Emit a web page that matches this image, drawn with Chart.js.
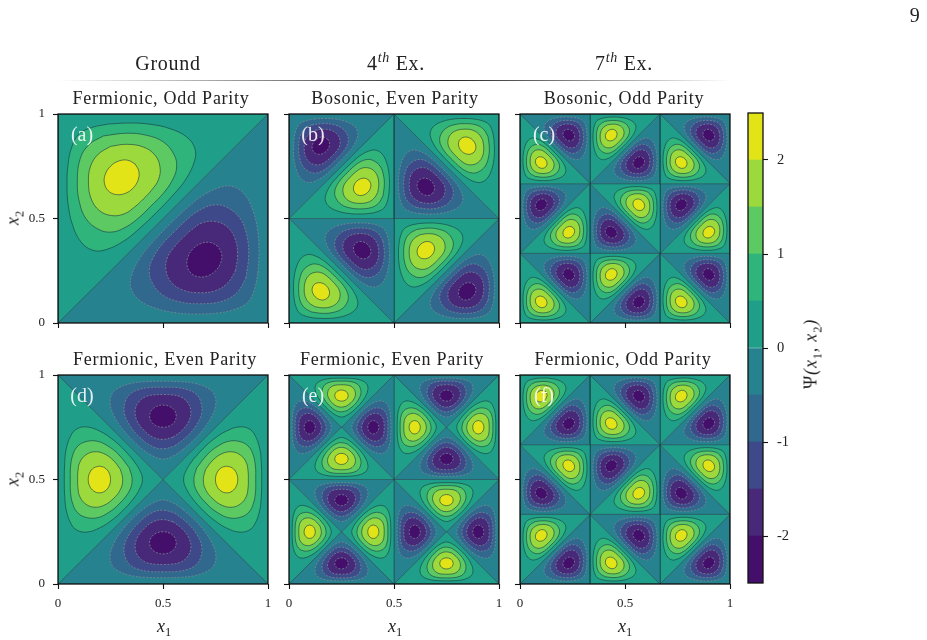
<!DOCTYPE html>
<html>
<head>
<meta charset="utf-8">
<script src="https://cdn.jsdelivr.net/npm/chart.js@4"></script>
<style>
  html, body { margin: 0; padding: 0; background: #fff; }
  body { position: relative; width: 927px; height: 640px; overflow: hidden;
         font-family: "Liberation Serif", serif; color: #222; }
  canvas { position: absolute; }
  .lab { position: absolute; white-space: nowrap; transform: translate(-50%, -50%); will-change: transform; }
  .head { font-size: 20px; letter-spacing: 0.7px; }
  .head sup { font-size: 14px; font-style: italic; line-height: 0; }
  .title { font-size: 18px; letter-spacing: 0.75px; }
  .tag { font-size: 20px; color: rgba(255, 255, 255, 0.88); z-index: 5; }
  .axis { font-size: 18px; font-style: italic; }
  .axis sub { font-size: 12.5px; font-style: normal; line-height: 0; }
  .axis span { font-style: normal; }
  .wide { letter-spacing: 0.8px; }
  .turn { transform: translate(-50%, -50%) rotate(-90deg); }
  #rule { position: absolute; left: 57px; top: 80px; width: 673px; height: 1px;
          background: linear-gradient(90deg, rgba(0,0,0,0), #222 58%, rgba(0,0,0,0)); }
</style>
</head>
<body>
<div id="rule"></div>
<script>
// contour bands, lowest to highest
const levels = [-2.5, -2, -1.5, -1, -0.5, 0, 0.5, 1, 1.5, 2, 2.5];
const bandColors = ["#440f6a", "#482878", "#3e4989", "#31688e", "#26828e",
                    "#1f9e89", "#2fb47c", "#5dc963", "#9bd93c", "#e3e418"];
const axisTicks = [0, 0.5, 1];
const barTicks = [-2, -1, 0, 1, 2];

// one lobe's contours on the triangle with its right angle at (0, 1)
const contourHalf = [[.24,.952],[.343,.957],[.438,.951],[.533,.930],[.613,.890],[.652,.834],[.650,.775],
  [.61,.69],[.555,.62],[.47,.53],[.38,.445],[.31,.39],[.225,.35],[.166,.348],[.11,.387],[.07,.467],
  [.049,.562],[.043,.657],[.048,.76],[.065,.84],[.098,.902],[.16,.935],[.24,.952]];
const contourOne = [[.216,.895],[.327,.908],[.422,.898],[.502,.866],[.553,.805],[.565,.747],[.548,.69],
  [.505,.625],[.4415,.5585],[.375,.495],[.31,.452],[.253,.435],[.195,.447],[.134,.498],[.102,.578],
  [.092,.673],[.105,.784],[.147,.853],[.216,.895]];
const contourOneHalf = [[.25,.845],[.327,.855],[.406,.842],[.462,.803],[.486,.745],[.478,.685],[.445,.635],
  [.4065,.5935],[.365,.555],[.315,.522],[.255,.514],[.197,.538],[.158,.594],[.145,.673],[.155,.75],
  [.192,.808],[.25,.845]];
const contourTwo = [[.367,.761],[.385,.726],[.381,.683],[.356,.644],[.317,.619],[.274,.615],[.239,.633],
  [.221,.669],[.225,.711],[.25,.75],[.289,.775],[.332,.779],[.367,.761]];

// lobes per panel: sign, right-angle corner, then the two far corners
const t = 1 / 3, s = 2 / 3;
const lobesA = [[1, 0,1, 0,0, 1,1], [-1, 1,0, 0,0, 1,1]];
const lobesB = [[-1, 0,1, 0,.5, .5,1], [1, .5,.5, 0,.5, .5,1], [1, 1,1, .5,1, 1,.5], [-1, .5,.5, .5,1, 1,.5],
  [1, 0,0, 0,.5, .5,0], [-1, .5,.5, 0,.5, .5,0], [1, .5,.5, .5,0, 1,.5], [-1, 1,0, .5,0, 1,.5]];
const lobesC = [[1, 0,s, 0,1, t,s], [-1, t,1, 0,1, t,s], [1, t,1, t,s, s,1], [-1, s,s, t,s, s,1],
  [1, s,s, s,1, 1,s], [-1, 1,1, s,1, 1,s], [-1, 0,s, 0,t, t,s], [1, t,t, 0,t, t,s],
  [1, s,s, t,s, s,t], [-1, t,t, t,s, s,t], [-1, s,s, s,t, 1,s], [1, 1,t, s,t, 1,s],
  [1, 0,0, 0,t, t,0], [-1, t,t, 0,t, t,0], [1, t,t, t,0, s,t], [-1, s,0, t,0, s,t],
  [1, s,0, s,t, 1,0], [-1, 1,t, s,t, 1,0]];
const lobesD = [[-1, .5,.5, 0,1, 1,1], [1, .5,.5, 0,0, 0,1], [1, .5,.5, 1,0, 1,1], [-1, .5,.5, 0,0, 1,0]];
const lobesE = [[1, .25,.75, 0,1, .5,1], [1, .25,.75, 0,.5, .5,.5], [-1, .25,.75, 0,.5, 0,1], [-1, .25,.75, .5,.5, .5,1],
  [-1, .75,.75, .5,1, 1,1], [-1, .75,.75, .5,.5, 1,.5], [1, .75,.75, .5,.5, .5,1], [1, .75,.75, 1,.5, 1,1],
  [-1, .25,.25, 0,.5, .5,.5], [-1, .25,.25, 0,0, .5,0], [1, .25,.25, 0,0, 0,.5], [1, .25,.25, .5,0, .5,.5],
  [1, .75,.25, .5,.5, 1,.5], [1, .75,.25, .5,0, 1,0], [-1, .75,.25, .5,0, .5,.5], [-1, .75,.25, 1,0, 1,.5]];
const lobesF = [[1, 0,1, 0,s, t,1], [-1, t,s, 0,s, t,1], [-1, s,1, t,1, s,s], [1, t,s, t,1, s,s],
  [1, s,1, s,s, 1,1], [-1, 1,s, s,s, 1,1], [1, t,s, 0,s, t,t], [-1, 0,t, 0,s, t,t],
  [-1, t,s, t,t, s,s], [1, s,t, t,t, s,s], [1, 1,s, s,s, 1,t], [-1, s,t, s,s, 1,t],
  [1, 0,t, 0,0, t,t], [-1, t,0, 0,0, t,t], [-1, s,t, t,t, s,0], [1, t,0, t,t, s,0],
  [1, s,t, s,0, 1,t], [-1, 1,0, s,0, 1,t]];

const panels = [
  { lobes: lobesA, left: 58, top: 114, title: "Fermionic, Odd Parity", titleX: 161, tag: "(a)", xLabels: false, yLabels: true },
  { lobes: lobesB, left: 289, top: 114, title: "Bosonic, Even Parity", titleX: 395, tag: "(b)", xLabels: false, yLabels: false },
  { lobes: lobesC, left: 520, top: 114, title: "Bosonic, Odd Parity", titleX: 624, tag: "(c)", xLabels: false, yLabels: false },
  { lobes: lobesD, left: 58, top: 375, title: "Fermionic, Even Parity", titleX: 165, tag: "(d)", xLabels: true, yLabels: true },
  { lobes: lobesE, left: 289, top: 375, title: "Fermionic, Even Parity", titleX: 392, tag: "(e)", xLabels: true, yLabels: false },
  { lobes: lobesF, left: 520, top: 375, title: "Fermionic, Odd Parity", titleX: 623, tag: "(f)", xLabels: true, yLabels: false },
];

const PLOT_W = 210, PLOT_H = 209;
const LINE_NODE = "rgba(22, 60, 68, 0.55)";
const LINE_SOLID = "rgba(22, 60, 68, 0.72)";
const LINE_DASHED = "rgba(125, 138, 150, 0.9)";

const framePlugin = {
  id: "frame",
  afterDraw(chart) {
    const { ctx, chartArea: a } = chart;
    ctx.save();
    ctx.strokeStyle = "#111";
    ctx.lineWidth = 1.3;
    ctx.strokeRect(a.left, a.top, a.right - a.left, a.bottom - a.top);
    ctx.restore();
  },
};

function addLabel(html, x, y, cls) {
  const el = document.createElement("div");
  el.className = "lab " + cls;
  el.innerHTML = html;
  el.style.left = x + "px";
  el.style.top = y + "px";
  document.body.appendChild(el);
}

function addCanvas(left, top, width, height) {
  const canvas = document.createElement("canvas");
  canvas.width = width;
  canvas.height = height;
  canvas.style.left = left + "px";
  canvas.style.top = top + "px";
  document.body.appendChild(canvas);
  return canvas;
}

function polygon(points, color, line, dashed, order) {
  return {
    data: points.map((p) => ({ x: p[0], y: p[1] })),
    showLine: true,
    fill: "shape",
    backgroundColor: color,
    borderColor: line,
    borderWidth: 0.85,
    borderDash: dashed ? [2, 1.5] : [],
    pointRadius: 0,
    order,
  };
}

function lobeDatasets(lobe) {
  const [sign, rx, ry, px, py, qx, qy] = lobe;
  // panel coords of a contour point, from its place in the template triangle
  const place = (p) => {
    const u = 1 - p[1], v = p[0];
    return [rx + v * (qx - rx) + u * (px - rx), ry + v * (qy - ry) + u * (py - ry)];
  };
  const band = (i) => bandColors[sign > 0 ? 5 + i : 4 - i];
  const sets = [polygon([[rx, ry], [px, py], [qx, qy], [rx, ry]], band(0), LINE_NODE, false, 5)];
  [contourHalf, contourOne, contourOneHalf, contourTwo].forEach((c, i) => {
    const set = polygon(c.map(place), band(i + 1), sign > 0 ? LINE_SOLID : LINE_DASHED, sign < 0, 4 - i);
    set.tension = 0.4;
    sets.push(set);
  });
  return sets;
}

// fixes the axis box and drops the overhang chart.js reserves for end labels
function fitAxis(scale, prop, size) {
  scale[prop] = size;
  scale.paddingTop = scale.paddingBottom = scale.paddingLeft = scale.paddingRight = 0;
}

function unitAxis(showLabels, padding, prop, size) {
  return {
    type: "linear",
    min: 0,
    max: 1,
    afterBuildTicks(scale) { scale.ticks = axisTicks.map((value) => ({ value })); },
    afterFit(scale) { fitAxis(scale, prop, size); },
    ticks: {
      autoSkip: false,
      maxRotation: 0,
      padding,
      color: "#222",
      font: { family: "Liberation Serif", size: 13 },
      callback: (v) => (showLabels ? String(v) : ""),
    },
    grid: { drawOnChartArea: false, drawTicks: true, tickLength: 5, color: "#111", tickWidth: 1.1 },
    border: { display: false },
  };
}

function renderPanel(p) {
  const canvas = addCanvas(p.left - 34, p.top - 10, 34 + PLOT_W + 10, 10 + PLOT_H + 28);
  new Chart(canvas, {
    type: "scatter",
    data: { datasets: p.lobes.flatMap(lobeDatasets) },
    options: {
      responsive: false,
      animation: false,
      layout: { autoPadding: false, padding: { top: 10, right: 10 } },
      plugins: { legend: { display: false }, tooltip: { enabled: false } },
      scales: {
        x: unitAxis(p.xLabels, 7, "height", 28),
        y: unitAxis(p.yLabels, 8, "width", 34),
      },
    },
    plugins: [framePlugin],
  });
  addLabel(p.title, p.titleX, p.top - 16, "title");
  addLabel(p.tag, p.left + 24, p.top + 20, "tag");
}

function renderColorbar() {
  const canvas = addCanvas(738, 107, 70, 482);
  new Chart(canvas, {
    type: "bar",
    data: {
      labels: [""],
      datasets: bandColors.map((color, i) => ({
        data: [[levels[i], levels[i + 1]]],
        backgroundColor: color,
        barPercentage: 1,
        categoryPercentage: 1,
        grouped: false,
      })),
    },
    options: {
      responsive: false,
      animation: false,
      layout: { autoPadding: false, padding: { top: 6, left: 10, bottom: 6 } },
      plugins: { legend: { display: false }, tooltip: { enabled: false } },
      scales: {
        x: { display: false },
        y: {
          position: "right",
          min: levels[0],
          max: levels[levels.length - 1],
          afterBuildTicks(scale) { scale.ticks = barTicks.map((value) => ({ value })); },
          afterFit(scale) { fitAxis(scale, "width", 45); },
          ticks: {
            padding: 9,
            color: "#222",
            font: { family: "Liberation Serif", size: 14.5 },
            callback: (v) => String(v),
          },
          grid: { drawOnChartArea: false, drawTicks: true, tickLength: 5, color: "#111", tickWidth: 1.1 },
          border: { display: false },
        },
      },
    },
    plugins: [framePlugin],
  });
}

panels.forEach(renderPanel);
renderColorbar();

addLabel("9", 915, 15, "head");
addLabel("Ground", 168, 63, "head");
addLabel("4<sup>th</sup> Ex.", 396, 63, "head");
addLabel("7<sup>th</sup> Ex.", 624, 63, "head");
[164, 395, 625].forEach((x) => addLabel("x<sub>1</sub>", x, 626, "axis"));
[218, 479].forEach((y) => addLabel("x<sub>2</sub>", 13, y, "axis turn"));
addLabel("<span>&Psi;</span>(x<sub>1</sub>, x<sub>2</sub>)", 811, 354, "axis turn wide");
</script>
</body>
</html>
